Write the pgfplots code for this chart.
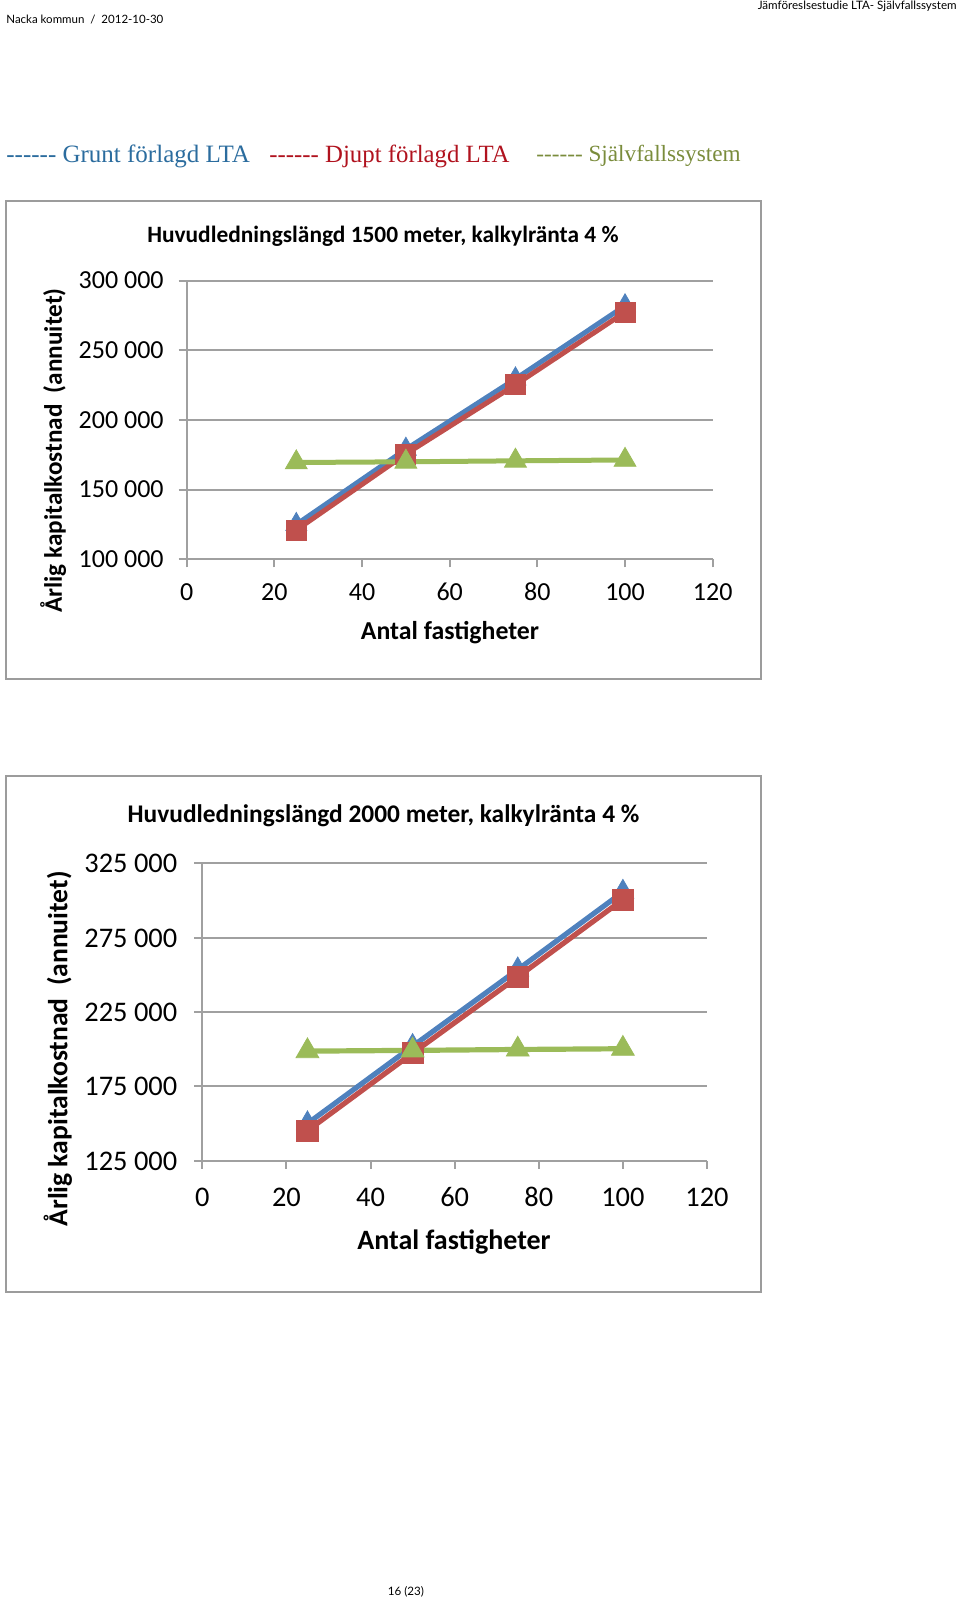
\documentclass[border=0pt]{standalone}
\usepackage{fontspec}
\setmainfont{Carlito}
\newfontfamily\legfont{Liberation Serif}
\newfontfamily\hdrfont{Lato}
\usepackage{pgfplots}
\pgfplotsset{compat=1.18}
\definecolor{sblue}{HTML}{4F81BD}
\definecolor{sred}{HTML}{C0504D}
\definecolor{sgreen}{HTML}{9BBB59}
\definecolor{legblue}{HTML}{2B6C9E}
\definecolor{legred}{HTML}{B0121E}
\definecolor{leggreen}{HTML}{7A8C3C}
\definecolor{axgray}{HTML}{A0A0A0}
\definecolor{framegray}{HTML}{9C9C9C}

\pgfplotsset{excelchart/.style={
  scale only axis,
  axis lines*=left,
  xmin=0, xmax=120,
  xtick={0,20,40,60,80,100,120},
  xticklabels={0,20,40,60,80,100,120},
  scaled y ticks=false,
  scaled x ticks=false,
  typeset ticklabels with strut,
  tick align=outside,
  major tick length=4pt,
  axis line style={draw=axgray, line width=1pt},
  every tick/.style={draw=axgray, line width=1pt},
  ymajorgrids,
  grid style={draw=axgray, line width=1pt},
  clip=false,
  every axis title shift=0pt,
  /pgf/number format/assume math mode=true,
}}

\begin{document}
\begin{tikzpicture}
\begin{scope}[x=0.5pt,y=-0.5pt]
\useasboundingbox (0,0) rectangle (960,1603);
% page header
\node[anchor=west, inner sep=0, font=\hdrfont\fontsize{5.75}{7}\selectfont] at (6,20) {Nacka kommun\ \ /\ \ 2012-10-30};
\node[anchor=east, inner sep=0, font=\hdrfont\fontsize{5.8}{7}\selectfont] at (957,6.5) {Jämföreslsestudie LTA- Självfallssystem};
% colour key line
\node[anchor=west, inner sep=0, text=legblue, font=\legfont\fontsize{12.5}{14}\selectfont] at (6,156) {-{}-{}-{}-{}-{}- Grunt förlagd LTA};
\node[anchor=west, inner sep=0, text=legred, font=\legfont\fontsize{12.4}{14}\selectfont] at (269,156) {-{}-{}-{}-{}-{}- Djupt förlagd LTA};
\node[anchor=west, inner sep=0, text=leggreen, font=\legfont\fontsize{11.6}{14}\selectfont] at (536,156) {-{}-{}-{}-{}-{}- Självfallssystem};
% chart frames
\draw[framegray, line width=1pt] (6,201) rectangle (761,679);
\draw[framegray, line width=1pt] (6,776) rectangle (761,1292);
% page number
\node[inner sep=0, font=\hdrfont\fontsize{5.8}{7}\selectfont] at (406,1592) {16 (23)};
\end{scope}

% ---------- chart 1 ----------
\begin{axis}[excelchart,
  at={(93.35pt,-279.65pt)}, anchor=south west,
  width=263pt, height=139.3pt,
  ymin=100000, ymax=300000,
  ytick={100000,150000,200000,250000,300000},
  yticklabels={100 000,150 000,200 000,250 000,300 000},
  yticklabel style={font=\fontsize{13}{15}\selectfont, xshift=-4pt, yshift=-1pt},
  xticklabel style={font=\fontsize{13}{15}\selectfont, yshift=-2.5pt},
  title={\textbf{Huvudledningslängd 1500 meter, kalkylränta 4 \%}},
  title style={at={(axis description cs:0.373,1.168)}, anchor=center, yshift=-1pt, font=\fontsize{11.7}{14}\selectfont},
  xlabel={\textbf{Antal fastigheter}},
  xlabel style={at={(axis description cs:0.5006,-0.257)}, anchor=center, yshift=-1pt, font=\fontsize{12.9}{15}\selectfont},
  ylabel={\textbf{Årlig kapitalkostnad\hspace{0.45em}(annuitet)}},
  ylabel style={at={(axis description cs:-0.254,0.383)}, anchor=center, xshift=1pt, rotate=0, font=\fontsize{12.6}{15}\selectfont},
]
\addplot[sblue, line width=2.5pt, mark=triangle*, mark size=6pt, mark options={line width=0.4pt, fill=sblue}]
  coordinates {(25,125000) (50,179000) (75,229500) (100,282000)};
\addplot[sred, line width=2.5pt, mark=square*, mark size=5pt, mark options={line width=0.4pt, fill=sred}]
  coordinates {(25,121000) (50,175600) (75,225300) (100,277400)};
\addplot[sgreen, line width=2.5pt, mark=triangle*, mark size=6.3pt, mark options={line width=0.4pt, fill=sgreen}]
  coordinates {(25,169500) (50,170000) (75,170700) (100,171300)};
\end{axis}

% ---------- chart 2 ----------
\begin{axis}[excelchart,
  at={(101.15pt,-580.35pt)}, anchor=south west,
  width=252.35pt, height=148.7pt,
  ymin=125000, ymax=325000,
  ytick={125000,175000,225000,275000,325000},
  yticklabels={125 000,175 000,225 000,275 000,325 000},
  yticklabel style={font=\fontsize{14.2}{16}\selectfont, xshift=-5pt, yshift=-1.5pt},
  xticklabel style={font=\fontsize{14.2}{16}\selectfont, yshift=-4pt},
  title={\textbf{Huvudledningslängd 2000 meter, kalkylränta 4 \%}},
  title style={at={(axis description cs:0.359,1.166)}, anchor=center, yshift=-1pt, font=\fontsize{12.7}{15}\selectfont},
  xlabel={\textbf{Antal fastigheter}},
  xlabel style={at={(axis description cs:0.4987,-0.2667)}, anchor=center, yshift=-1pt, font=\fontsize{14}{16}\selectfont},
  ylabel={\textbf{Årlig kapitalkostnad\hspace{0.45em}(annuitet)}},
  ylabel style={at={(axis description cs:-0.286,0.369)}, anchor=center, xshift=1pt, rotate=0, font=\fontsize{13.8}{16}\selectfont},
]
\addplot[sblue, line width=2.6pt, mark=triangle*, mark size=6.3pt, mark options={line width=0.4pt, fill=sblue}]
  coordinates {(25,150000) (50,202000) (75,253500) (100,305700)};
\addplot[sred, line width=2.6pt, mark=square*, mark size=5.3pt, mark options={line width=0.4pt, fill=sred}]
  coordinates {(25,145200) (50,197300) (75,248600) (100,300600)};
\addplot[sgreen, line width=2.6pt, mark=triangle*, mark size=6.6pt, mark options={line width=0.4pt, fill=sgreen}]
  coordinates {(25,198700) (50,199200) (75,199800) (100,200300)};
\end{axis}
\end{tikzpicture}
\end{document}
